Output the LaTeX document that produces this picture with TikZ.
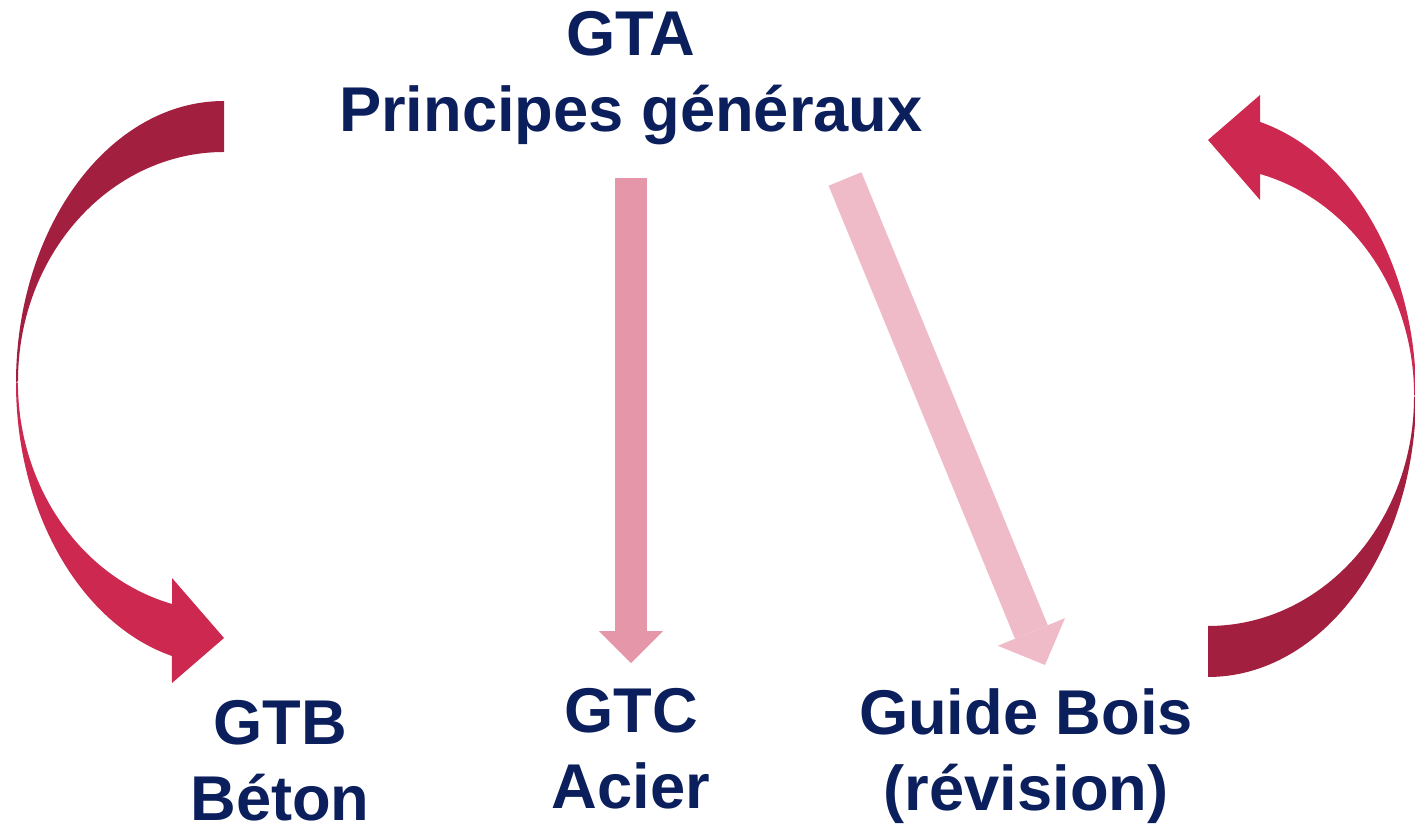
\documentclass[tikz,border=0pt]{standalone}
\usepackage{fontspec}
\setmainfont{Liberation Sans}
\usepackage{tikz}
\usetikzlibrary{arrows.meta}
\usepackage{xcolor}
\definecolor{gt_navy}{HTML}{0B1F5D}
\definecolor{gt_darkred}{HTML}{A31F3F}
\definecolor{gt_red}{HTML}{CD2850}
\definecolor{gt_pink}{HTML}{E596A8}
\definecolor{gt_lightpink}{HTML}{F0BBC9}

\begin{document}
\begin{tikzpicture}[
    gttext/.style={text=gt_navy, font=\bfseries\fontsize{18}{21.5}\selectfont, align=center, inner sep=0pt},
    fatarrow/.style n args={3}{line width=#1, -{Triangle[length=#2, width=#3, line width=0pt]}}
  ]
	\useasboundingbox (0,0) rectangle (14.15,8.29);

	\node [gttext] (gta) at (6.31,7.51) {GTA\\Principes généraux};
	\node [gttext] (gtb) at (2.80,0.68) {GTB\\Béton};
	\node [gttext] (gtc) at (6.31,0.80) {GTC\\Acier};
	\node [gttext] (bois) at (10.26,0.73) {Guide Bois\\(révision)};

	% bent arrows left and right (the right one is the left one turned)
	\foreach \turn in {0,180} {
		\begin{scope}[rotate around={\turn:(7.16,4.40)}]
			\fill [gt_darkred] (2.24,7.28) arc [start angle=90, end angle=180, x radius=2.08, y radius=2.82]
				-- (0.18,4.48) arc [start angle=180, end angle=90, x radius=2.06, y radius=2.29] -- cycle;
			\fill [gt_red] (0.16,4.46) arc [start angle=180, end angle=255.5, x radius=2.08, y radius=2.82]
				-- (1.72,1.46) -- (2.24,1.91) -- (1.72,2.51) -- (1.72,2.25)
				arc [start angle=255.4, end angle=180, x radius=2.06, y radius=2.29] -- cycle;
		\end{scope}
	}

	\draw [gt_pink, fatarrow={0.32cm}{0.32cm}{0.64cm}, shorten <=0.33cm, shorten >=0.25cm] (gta.south) -- (gtc.north);

	\coordinate (woodstart) at (8.45,6.50);
	\coordinate (woodend) at (10.45,1.64);
	\draw [gt_lightpink, fatarrow={0.355cm}{0.357cm}{0.726cm}] (woodstart) -- (woodend);
\end{tikzpicture}
\end{document}
